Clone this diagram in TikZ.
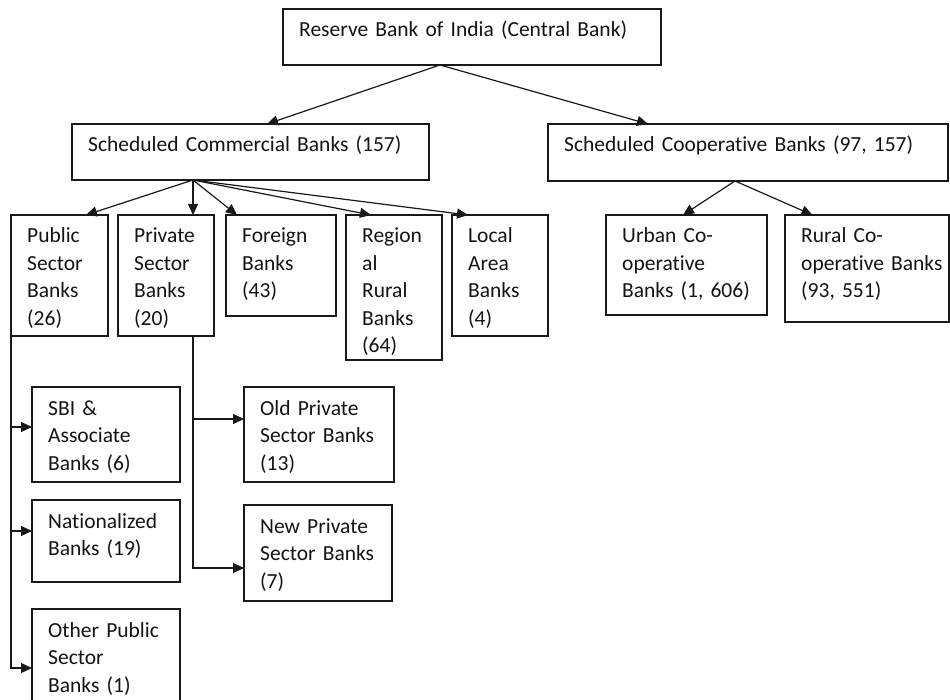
\documentclass[tikz,border=0pt]{standalone}
\usepackage{fontspec}
\setmainfont{Carlito}[Ligatures=NoCommon]
\usetikzlibrary{arrows.meta,calc}
\tikzset{
  box/.style={draw=black!90, line width=1.2pt, anchor=north west, inner sep=0pt, outer sep=0pt},
  txt/.style={anchor=base west, inner sep=0pt, text width=420pt, align=left, text=black!92,
              font=\fontsize{21.5}{27.5}\selectfont},
  arr/.style={draw=black!90, line width=1.2pt, -{Triangle[length=11pt,width=10pt]}}
}
\begin{document}
\begin{tikzpicture}[x=1pt,y=-1pt]
\clip (0,0) rectangle (950,700);
\fill[white] (0,0) rectangle (950,700);
% boxes
\node[box, minimum width=378pt, minimum height=56pt] (rbi) at (283,9) {};
\node[box, minimum width=357pt, minimum height=56pt] (scb) at (72,124) {};
\node[box, minimum width=400pt, minimum height=57pt] (scob) at (548,124) {};
\node[box, minimum width=97pt, minimum height=121pt] (pub) at (11,215) {};
\node[box, minimum width=96pt, minimum height=121pt] (prv) at (118,215) {};
\node[box, minimum width=110pt, minimum height=101pt] (for) at (226,215) {};
\node[box, minimum width=96pt, minimum height=145pt] (reg) at (346,215) {};
\node[box, minimum width=96pt, minimum height=121pt] (loc) at (452,215) {};
\node[box, minimum width=161pt, minimum height=100pt] (urb) at (606,215) {};
\node[box, minimum width=164pt, minimum height=107pt] (rur) at (785,215) {};
\node[box, minimum width=148pt, minimum height=95pt] (sbi) at (32,387) {};
\node[box, minimum width=148pt, minimum height=82pt] (nat) at (32,500) {};
\node[box, minimum width=148pt, minimum height=120pt] (oth) at (32,609) {};
\node[box, minimum width=150pt, minimum height=95pt] (old) at (244,387) {};
\node[box, minimum width=148pt, minimum height=96pt] (new) at (244,505) {};
% texts
\node[txt] (trbi) at ($(rbi.north west)+(16,28)$) {Reserve Bank of India (Central Bank)};
\node[txt] (tscb) at ($(scb.north west)+(16,28)$) {Scheduled Commercial Banks (157)};
\node[txt] (tscob) at ($(scob.north west)+(16,28)$) {Scheduled Cooperative Banks (97, 157)};
\node[txt] (tpub) at ($(pub.north west)+(16,28)$) {Public\\Sector\\Banks\\(26)};
\node[txt] (tprv) at ($(prv.north west)+(16,28)$) {Private\\Sector\\Banks\\(20)};
\node[txt] (tfor) at ($(for.north west)+(16,28)$) {Foreign\\Banks\\(43)};
\node[txt] (treg) at ($(reg.north west)+(16,28)$) {Region\\al\\Rural\\Banks\\(64)};
\node[txt] (tloc) at ($(loc.north west)+(16,28)$) {Local\\Area\\Banks\\(4)};
\node[txt] (turb) at ($(urb.north west)+(16,28)$) {Urban Co-\\operative\\Banks (1, 606)};
\node[txt] (trur) at ($(rur.north west)+(16,28)$) {Rural Co-\\operative Banks\\(93, 551)};
\node[txt] (tsbi) at ($(sbi.north west)+(16,28)$) {SBI \&\\Associate\\Banks (6)};
\node[txt] (tnat) at ($(nat.north west)+(16,28)$) {Nationalized\\Banks (19)};
\node[txt] (toth) at ($(oth.north west)+(16,28)$) {Other Public\\Sector\\Banks (1)};
\node[txt] (told) at ($(old.north west)+(16,28)$) {Old Private\\Sector Banks\\(13)};
\node[txt] (tnew) at ($(new.north west)+(16,28)$) {New Private\\Sector Banks\\(7)};
% connectors
\draw[arr] ([xshift=-32pt]rbi.south) -- ([xshift=16.5pt]scb.north);
\draw[arr] ([xshift=-32pt]rbi.south) -- ([xshift=-100pt]scob.north);
\draw[arr] ([xshift=-57.5pt]scb.south) -- ([xshift=26.5pt]pub.north);
\draw[arr] ([xshift=-57.5pt]scb.south) -- ([xshift=27pt]prv.north);
\draw[arr] ([xshift=-57.5pt]scb.south) -- ([xshift=-44pt]for.north);
\draw[arr] ([xshift=-57.5pt]scb.south) -- ([xshift=-23pt]reg.north);
\draw[arr] ([xshift=-57.5pt]scb.south) -- ([xshift=-32pt]loc.north);
\draw[arr] ([xshift=-13pt]scob.south) -- ([xshift=-3.5pt]urb.north);
\draw[arr] ([xshift=-13pt]scob.south) -- ([xshift=-54.5pt]rur.north);
\draw[arr] (pub.south west) |- ([yshift=7.5pt]sbi.west);
\draw[arr] (pub.south west) |- ([yshift=10pt]nat.west);
\draw[arr] (pub.south west) |- ([yshift=1pt]oth.west);
\draw[arr] ([xshift=27pt]prv.south) |- ([yshift=15.5pt]old.west);
\draw[arr] ([xshift=27pt]prv.south) |- ([yshift=-15pt]new.west);
\end{tikzpicture}
\end{document}
